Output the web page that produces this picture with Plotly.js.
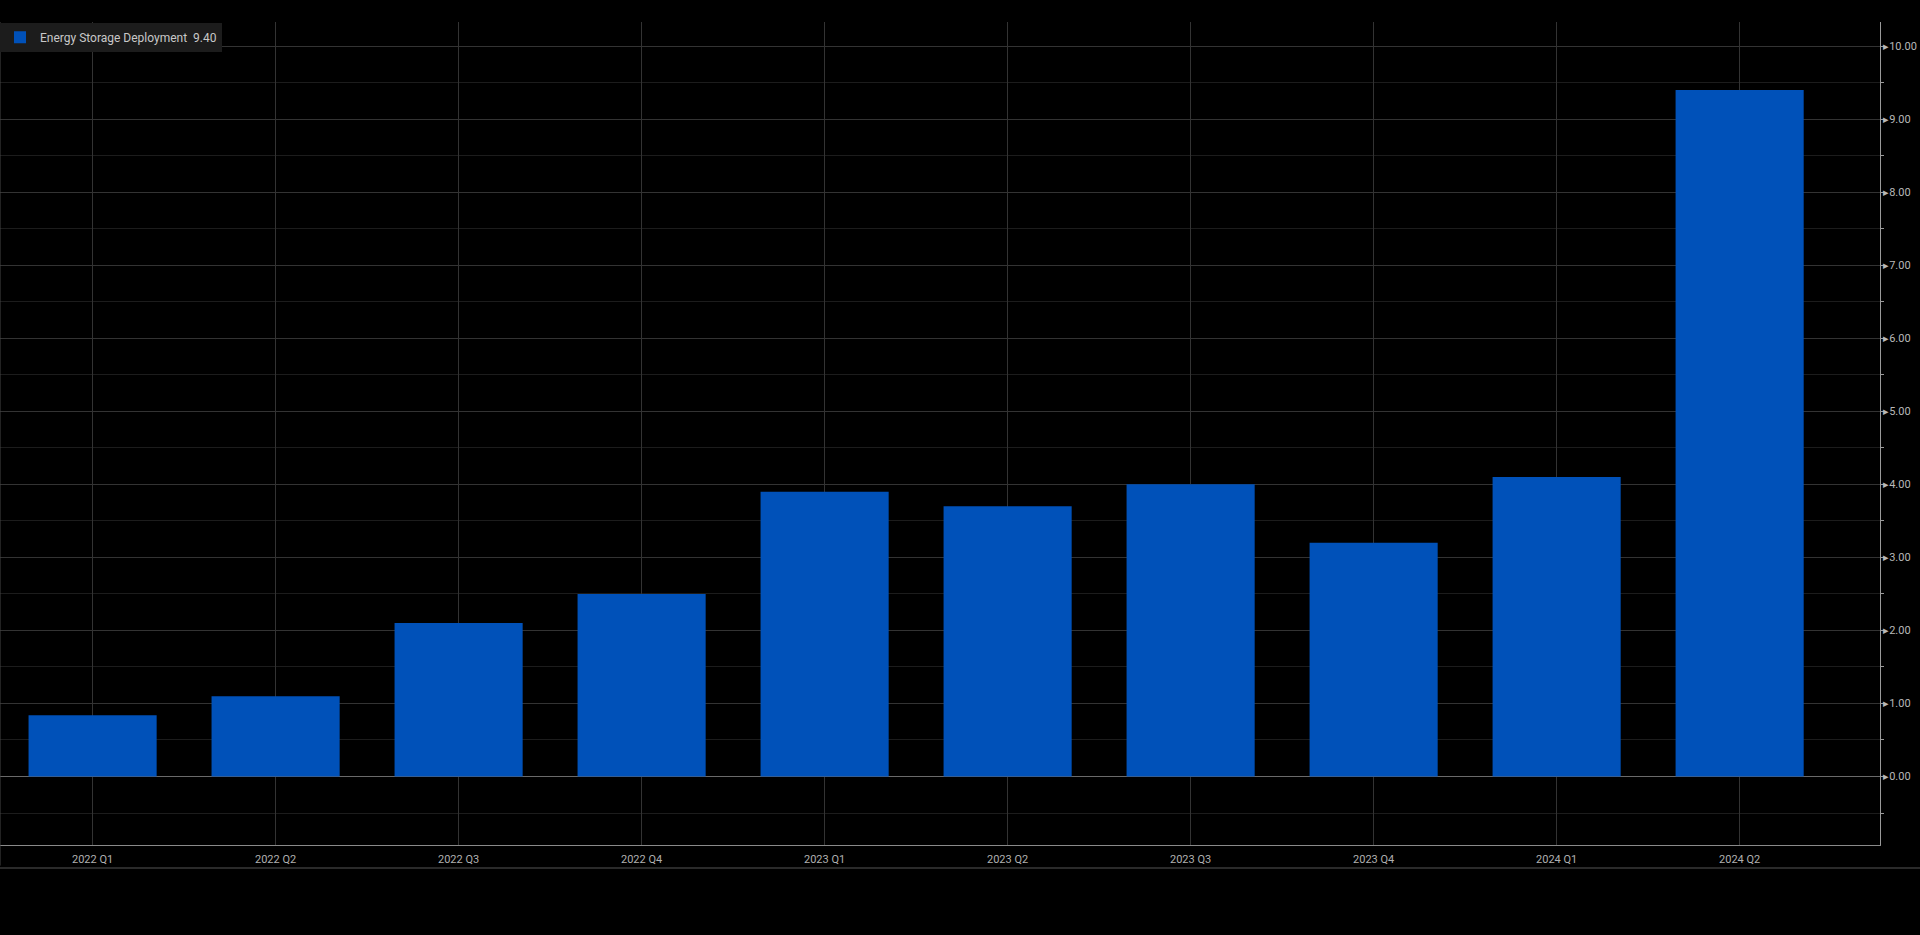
<!DOCTYPE html>
<html>
<head>
<meta charset="utf-8">
<script src="https://cdn.plot.ly/plotly-3.0.1.min.js"></script>
<style>html,body{margin:0;padding:0;background:#000;}#chart{width:1920px;height:935px;}</style>
</head>
<body>
<div id="chart"></div>
<script>
const categories = ["2022 Q1","2022 Q2","2022 Q3","2022 Q4","2023 Q1","2023 Q2","2023 Q3","2023 Q4","2024 Q1","2024 Q2"];
const deployment = [0.84, 1.10, 2.10, 2.50, 3.90, 3.70, 4.00, 3.20, 4.10, 9.40];
const seriesName = "Energy Storage Deployment";
const yTickVals = [0,1,2,3,4,5,6,7,8,9,10];
const yTickText = yTickVals.map(v => "\u25B8" + v.toFixed(2));

const trace = {
  type: 'bar',
  x: categories.map((c, i) => i),
  y: deployment,
  name: seriesName + "  " + deployment[deployment.length - 1].toFixed(2),
  width: 0.7,
  marker: {color: '#0051b9', line: {width: 0}},
  hoverinfo: 'x+y'
};

const layout = {
  width: 1920, height: 935,
  paper_bgcolor: '#000', plot_bgcolor: '#000',
  margin: {l: 0, r: 40, t: 22, b: 90, pad: 0},
  font: {family: 'Roboto, "Open Sans", sans-serif', size: 11, color: '#b0b0b0'},
  showlegend: true,
  legend: {
    x: 0, y: 0.999, xanchor: 'left', yanchor: 'top',
    bgcolor: '#1c1c1c', borderwidth: 0,
    font: {size: 12, color: '#c8c8c8'},
    itemwidth: 30, tracegroupgap: 0
  },
  xaxis: {
    type: 'linear',
    range: [-0.506, 9.767],
    tickmode: 'array',
    tickvals: categories.map((c, i) => i),
    ticktext: categories,
    showgrid: true, gridcolor: '#333333', gridwidth: 1,
    zeroline: false,
    showline: true, linecolor: '#8a8a8a', linewidth: 1,
    ticks: '', ticklabelstandoff: 4,
    tickfont: {size: 11, color: '#b0b0b0'}
  },
  yaxis: {
    side: 'right',
    range: [-0.938, 10.33],
    tickmode: 'array',
    tickvals: yTickVals,
    ticktext: yTickText,
    showgrid: true, gridcolor: '#333333', gridwidth: 1,
    zeroline: true, zerolinecolor: '#6a6a6a', zerolinewidth: 1,
    showline: true, linecolor: '#9a9a9a', linewidth: 1,
    ticks: '', ticklabelstandoff: 0,
    tickfont: {size: 11, color: '#b8b8b8'},
    minor: {dtick: 0.5, tick0: 0, showgrid: true, gridcolor: '#1c1c1c', ticks: 'outside', ticklen: 3, tickcolor: '#9a9a9a'}
  },
  shapes: [
    {type: 'line', xref: 'paper', yref: 'paper', x0: 0, x1: 0, y0: -0.025, y1: 1, line: {color: '#444', width: 1}},
    {type: 'line', xref: 'paper', yref: 'paper', x0: -0.01, x1: 1.03, y0: -0.028, y1: -0.028, line: {color: '#2a2a2a', width: 2}}
  ],
  bargap: 0.3
};

Plotly.newPlot('chart', [trace], layout, {displayModeBar: false, staticPlot: true});
</script>
</body>
</html>
